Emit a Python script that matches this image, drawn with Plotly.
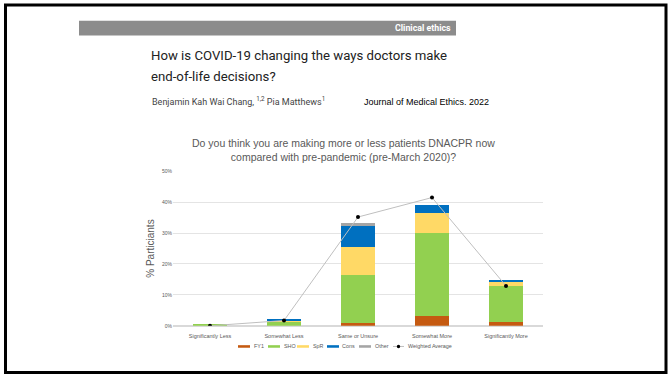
import plotly.graph_objects as go

W, H = 670, 378

categories = ["Significantly Less", "Somewhat Less", "Same or Unsure", "Somewhat More", "Significantly More"]
fy1 = [0.0, 0.0, 0.85, 3.1, 1.3]
sho = [0.5, 1.4, 15.5, 26.8, 11.6]
spr = [0.0, 0.3, 9.1, 6.6, 1.3]
cons = [0.0, 0.5, 7.0, 2.5, 0.5]
other = [0.0, 0.0, 0.85, 0.0, 0.0]
weighted_avg = [0.0, 1.7, 35.2, 41.5, 12.9]
y_ticks = [0, 10, 20, 30, 40, 50]
y_tick_labels = ["0%", "10%", "20%", "30%", "40%", "50%"]

series_names = ["FY1", "SHO", "SpR", "Cons", "Other"]
series_values = [fy1, sho, spr, cons, other]
series_colors = ["#C55A11", "#92D050", "#FFD966", "#0070C0", "#A5A5A5"]
avg_name = "Weighted Average"

# legend layout (pixel positions of the swatch left edges)
legend_x = [238, 268, 297, 327, 359, 393]
legend_y = 349

NARROW = "Roboto"
GRAYTXT = "#595959"


def px(x):
    return x / W


def py(y):
    return 1 - y / H


fig = go.Figure()
for name, vals, col in zip(series_names, series_values, series_colors):
    fig.add_trace(go.Bar(x=categories, y=vals, name=name, marker=dict(color=col, line=dict(width=0))))
fig.add_trace(go.Scatter(x=categories, y=weighted_avg, name=avg_name, mode="lines+markers",
                         line=dict(color="#BFBFBF", width=1),
                         marker=dict(color="black", size=4)))

fig.update_layout(
    width=W, height=H, margin=dict(l=0, r=0, t=0, b=0),
    paper_bgcolor="white", plot_bgcolor="white",
    barmode="stack", bargap=0.54,
    showlegend=False,
    xaxis=dict(domain=[px(173), px(543)], showgrid=False, showline=False, ticks="",
               ticklabelstandoff=6,
               tickfont=dict(size=5.5, color=GRAYTXT, family="Liberation Sans"), anchor="y"),
    yaxis=dict(domain=[py(328), py(171)], range=[0, 50], tickvals=y_ticks, ticktext=y_tick_labels,
               showgrid=True, gridcolor="#E4E4E4", gridwidth=1, zeroline=True, zerolinecolor="#D9D9D9",
               tickfont=dict(size=5, color=GRAYTXT, family="Liberation Sans"), ticks="",
               title=dict(text="% Particiants", font=dict(size=10, color=GRAYTXT, family="Liberation Sans"), standoff=5)),
    font=dict(family="Liberation Sans"),
)

shapes = [
    dict(type="rect", xref="paper", yref="paper", x0=px(79), x1=px(456), y0=py(33), y1=py(18),
         fillcolor="#8C8C8C", line=dict(width=0), layer="below"),
    dict(type="rect", xref="paper", yref="paper", x0=px(5.5), x1=px(666), y0=py(375.5), y1=py(2),
         fillcolor="rgba(0,0,0,0)", line=dict(color="black", width=3)),
]

ann = [
    dict(text="<b>Clinical ethics</b>", x=px(453), y=py(25.5), xanchor="right", yanchor="middle",
         font=dict(size=8.8, color="white", family=NARROW)),
    dict(text="How is COVID-19 changing the ways doctors make", x=px(149), y=py(53), xanchor="left", yanchor="middle",
         font=dict(size=13.2, color="#222222", family=NARROW)),
    dict(text="end-of-life decisions?", x=px(149), y=py(75), xanchor="left", yanchor="middle",
         font=dict(size=13.2, color="#222222", family=NARROW)),
    dict(text="Benjamin Kah Wai Chang, <sup>1,2</sup> Pia Matthews<sup>1</sup>", x=px(150), y=py(100), xanchor="left",
         yanchor="middle", font=dict(size=9, color="#444444", family=NARROW)),
    dict(text="Journal of Medical Ethics. 2022", x=px(362), y=py(101), xanchor="left", yanchor="middle",
         font=dict(size=9, color="black", family="Liberation Sans")),
    dict(text="Do you think you are making more or less patients DNACPR now<br>compared with pre-pandemic (pre-March 2020)?",
         x=px(343), y=py(149.5), xanchor="center", yanchor="middle", align="center",
         font=dict(size=10.5, color=GRAYTXT, family="Liberation Sans")),
]

# legend built from the series lists
legend_names = series_names + [avg_name]
for i, name in enumerate(legend_names):
    x0 = legend_x[i]
    if i < len(series_names):
        shapes.append(dict(type="rect", xref="paper", yref="paper", x0=px(x0), x1=px(x0 + 12),
                           y0=py(legend_y + 1.3), y1=py(legend_y - 1.3),
                           fillcolor=series_colors[i], line=dict(width=0)))
        tx = x0 + 13.5
    else:
        shapes.append(dict(type="line", xref="paper", yref="paper", x0=px(x0), x1=px(x0 + 11),
                           y0=py(legend_y), y1=py(legend_y), line=dict(color="#BFBFBF", width=1)))
        shapes.append(dict(type="circle", xref="paper", yref="paper", x0=px(x0 + 3.8), x1=px(x0 + 7.2),
                           y0=py(legend_y + 1.7), y1=py(legend_y - 1.7),
                           fillcolor="black", line=dict(width=0)))
        tx = x0 + 13
    ann.append(dict(text=name, x=px(tx), y=py(legend_y), xanchor="left", yanchor="middle",
                    font=dict(size=5.4, color=GRAYTXT, family="Liberation Sans")))

for a in ann:
    a.update(xref="paper", yref="paper", showarrow=False)
fig.update_layout(shapes=shapes, annotations=ann)

fig.write_html("out.html")
